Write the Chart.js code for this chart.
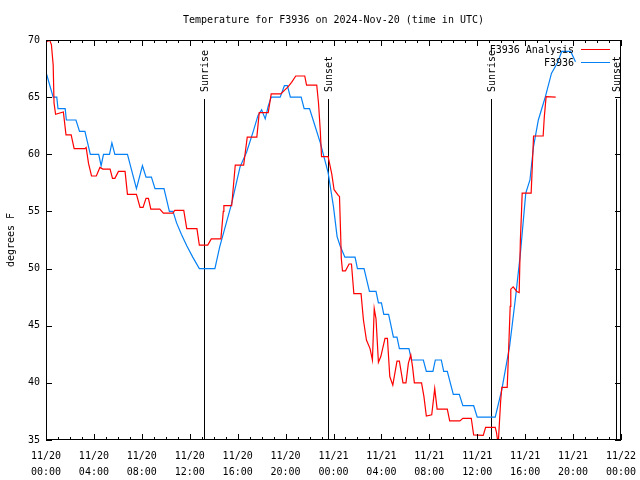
<!DOCTYPE html>
<html>
<head>
<meta charset="utf-8">
<script src="https://cdn.jsdelivr.net/npm/chart.js@4/dist/chart.umd.min.js"></script>
<style>
  html, body { margin: 0; padding: 0; background: #fff; }
</style>
</head>
<body>
<canvas id="grafico" width="640" height="480"></canvas>
<script>
// hours since 11/20 00:00 UTC
let obsHours = [0.05, 0.6, 0.9, 1.0, 1.6, 1.7, 2.5, 2.8, 3.25, 3.7, 4.4, 4.6, 4.8, 5.3, 5.5, 5.75, 6.8, 7.55, 8.05, 8.35,
    8.8, 9.1, 9.85, 10.3, 10.6, 10.9, 11.3, 11.75, 12.25, 12.8, 14.1, 14.5, 15.5, 16.2, 16.75, 17.3, 17.7, 18.0, 18.3, 18.55,
    18.8, 19.55, 19.9, 20.15, 20.4, 21.3, 21.55, 22.0, 22.3, 22.9, 23.55, 24.0, 24.3, 24.55, 24.95, 25.8, 26.0, 26.55, 27.0, 27.55,
    27.75, 28.0, 28.2, 28.6, 28.8, 29.0, 29.3, 29.5, 30.3, 30.5, 31.5, 31.75, 32.3, 32.5, 33.0, 33.2, 33.5, 34.0, 34.5, 34.8,
    35.7, 36.0, 37.5, 38.05, 38.7, 39.2, 39.6, 40.05, 40.4, 40.7, 41.1, 41.65, 42.2, 42.7, 43.05, 43.8, 44.2];
let obsTemps = [67, 65, 65, 64, 64, 63, 63, 62, 62, 60, 60, 59, 60, 60, 61, 60, 60, 57, 59, 58,
    58, 57, 57, 55, 55, 54, 53, 52, 51, 50, 50, 51.9, 55.7, 58.9, 60.2, 62, 63.4, 63.9, 63.1, 64.2,
    65, 65, 66, 66, 65, 65, 64, 64, 63, 61, 58.4, 55.4, 52.8, 52, 51, 51, 50, 50, 48, 48,
    47, 47, 46, 46, 45, 44, 44, 43, 43, 42, 42, 41, 41, 42, 42, 41, 41, 39, 39, 38,
    38, 37, 37, 39.4, 43.2, 47.5, 51.3, 56.6, 57.75, 60.7, 63, 64.9, 67.1, 68, 69, 69, 68.1];

let anaHours = [0.1, 0.3, 0.45, 0.6, 0.67, 0.8, 1.45, 1.67, 2.1, 2.35, 3.25, 3.35, 3.55, 3.8, 4.2, 4.5, 4.75, 5.35, 5.55, 5.75,
    6.05, 6.6, 6.8, 7.55, 7.85, 8.1, 8.35, 8.55, 8.75, 9.5, 9.8, 10.6, 10.75, 11.5, 11.75, 12.6, 12.8, 13.5, 13.8, 14.6,
    14.8, 14.85, 15.5, 15.8, 16.5, 16.8, 17.6, 17.8, 18.55, 18.8, 19.6, 20.2, 20.5, 20.85, 21.6, 21.75, 22.6, 22.75, 22.9, 23.0,
    23.55, 23.85, 24.05, 24.4, 24.5, 24.6, 24.65, 24.75, 25.0, 25.3, 25.5, 25.7, 26.3, 26.5, 26.75, 27.05, 27.25, 27.4, 27.55, 27.75,
    27.95, 28.3, 28.5, 28.7, 28.95, 29.3, 29.5, 29.8, 30.05, 30.25, 30.45, 30.6, 30.75, 31.35, 31.55, 31.75, 32.2, 32.45, 32.65, 33.5,
    33.7, 34.55, 34.8, 35.5, 35.7, 36.5, 36.7, 37.5, 37.6, 37.75, 37.85, 37.95, 38.05, 38.5, 38.6, 38.75, 38.8, 39.0, 39.3, 39.5,
    39.6, 39.7, 39.75, 40.5, 40.6, 40.7, 41.5, 41.6, 41.75, 42.55];
let anaTemps = [69.85, 70, 69.6, 67.8, 64.5, 63.5, 63.7, 61.7, 61.7, 60.5, 60.5, 60.6, 59.2, 58.1, 58.1, 58.85, 58.7, 58.7, 57.9, 57.9,
    58.5, 58.5, 56.5, 56.5, 55.35, 55.35, 56.15, 56.15, 55.2, 55.2, 54.85, 54.85, 55.1, 55.1, 53.5, 53.5, 52.06, 52.06, 52.6, 52.6,
    55.0, 55.5, 55.5, 59.06, 59.06, 61.5, 61.5, 63.65, 63.65, 65.28, 65.28, 65.9, 66.3, 66.85, 66.85, 66.06, 66.06, 64.46, 62, 59.8,
    59.8, 58.3, 56.9, 56.4, 56.3, 52.9, 50.9, 49.8, 49.8, 50.4, 50.4, 47.8, 47.8, 45.5, 43.75, 43.0, 42.0, 46.5, 45.6, 41.8,
    42.3, 43.9, 43.9, 40.55, 39.8, 41.9, 41.9, 40.0, 40.0, 41.7, 42.45, 41.4, 40.0, 40.0, 38.8, 37.1, 37.2, 39.5, 37.7, 37.7,
    36.67, 36.67, 36.9, 36.9, 35.44, 35.4, 36.1, 36.1, 35.7, 34.6, 36.5, 38.35, 39.6, 39.6, 42.3, 46.7, 48.2, 48.4, 48.0, 47.9,
    52.5, 55.1, 56.6, 56.6, 59.06, 61.6, 61.6, 63.3, 65.04, 65];

let sunHours = [13.15, 23.55, 37.15, 47.55];
let sunLabels = ['Sunrise', 'Sunset', 'Sunrise', 'Sunset'];

let tickDays = ['11/20', '11/21', '11/22'];

const FONTE = '10px "DejaVu Sans Mono"';

function pares(xs, ys) {
    return xs.map((h, i) => ({x: h, y: ys[i]}));
}

// molduras, marcas, textos
const enfeites = {
    id: 'enfeites',
    beforeDatasetsDraw(chart) {
        const ctx = chart.ctx, a = chart.chartArea, sx = chart.scales.x;
        ctx.save();
        ctx.strokeStyle = '#000';
        ctx.fillStyle = '#000';
        ctx.lineWidth = 1;
        ctx.font = FONTE;
        sunHours.forEach((h, i) => {
            const px = Math.round(sx.getPixelForValue(h)) + 0.5;
            ctx.beginPath();
            ctx.moveTo(px, a.top + 59);
            ctx.lineTo(px, a.bottom);
            ctx.stroke();
            ctx.save();
            ctx.translate(px + 1, a.top + 52);
            ctx.rotate(-Math.PI / 2);
            ctx.textAlign = 'left';
            ctx.textBaseline = 'middle';
            ctx.fillText(sunLabels[i], 0, 0);
            ctx.restore();
        });
        ctx.restore();
    },
    afterDraw(chart) {
        const ctx = chart.ctx, a = chart.chartArea, sx = chart.scales.x, sy = chart.scales.y;
        ctx.save();
        ctx.strokeStyle = '#000';
        ctx.fillStyle = '#000';
        ctx.lineWidth = 1;
        ctx.strokeRect(a.left + 0.5, a.top + 0.5, a.right - a.left - 1, a.bottom - a.top - 1);
        ctx.beginPath();
        for (let h = 0; h <= 48; h++) {
            const px = Math.round(sx.getPixelForValue(h)) + 0.5;
            const len = h % 4 === 0 ? 6 : 3;
            ctx.moveTo(px, a.bottom); ctx.lineTo(px, a.bottom - len);
            ctx.moveTo(px, a.top); ctx.lineTo(px, a.top + len);
        }
        for (let v = 35; v <= 70; v += 5) {
            const py = Math.round(sy.getPixelForValue(v)) + 0.5;
            ctx.moveTo(a.left, py); ctx.lineTo(a.left + 6, py);
            ctx.moveTo(a.right, py); ctx.lineTo(a.right - 6, py);
        }
        ctx.stroke();

        ctx.font = FONTE;
        ctx.textBaseline = 'middle';
        ctx.textAlign = 'center';
        ctx.fillText('Temperature for F3936 on 2024-Nov-20 (time in UTC)', (a.left + a.right) / 2, 20);

        ctx.save();
        ctx.translate(11, (a.top + a.bottom) / 2);
        ctx.rotate(-Math.PI / 2);
        ctx.fillText('degrees F', 0, 0);
        ctx.restore();

        // legenda
        const itens = chart.data.datasets;
        itens.forEach((ds, i) => {
            const yy = a.top + 10 + i * 13;
            ctx.textAlign = 'right';
            ctx.fillText(ds.label, a.right - 47, yy);
            ctx.strokeStyle = ds.borderColor;
            ctx.beginPath();
            ctx.moveTo(a.right - 40, yy - 0.5);
            ctx.lineTo(a.right - 11, yy - 0.5);
            ctx.stroke();
        });
        ctx.restore();
    }
};

let grafico = document.getElementById('grafico').getContext('2d');
let temp = new Chart(grafico, {
    type: 'line',
    data: {
        datasets: [
            {
                label: 'F3936 Analysis',
                data: pares(anaHours, anaTemps),
                borderColor: '#ff0000',
                backgroundColor: '#ff0000',
                borderWidth: 1.2,
                pointRadius: 0,
                tension: 0,
                fill: false,
            },
            {
                label: 'F3936',
                data: pares(obsHours, obsTemps),
                borderColor: '#0580f5',
                backgroundColor: '#0580f5',
                borderWidth: 1.2,
                pointRadius: 0,
                tension: 0,
                fill: false,
            }
        ]
    },
    options: {
        responsive: false,
        animation: false,
        events: [],
        layout: {padding: {top: 40, right: 19, left: 0, bottom: 0}},
        plugins: {
            legend: {display: false},
            title: {display: false},
            tooltip: {enabled: false}
        },
        scales: {
            x: {
                type: 'linear',
                min: 0,
                max: 48,
                grid: {display: false, drawTicks: false},
                border: {display: false},
                afterFit: s => { s.height = 40; s.paddingLeft = 0; s.paddingRight = 0; },
                ticks: {
                    stepSize: 4,
                    maxRotation: 0,
                    autoSkip: false,
                    padding: 8,
                    color: '#000',
                    font: {family: 'DejaVu Sans Mono', size: 10, lineHeight: 1.6},
                    callback: v => {
                        const d = tickDays[Math.floor(v / 24)];
                        const hh = String(v % 24).padStart(2, '0');
                        return [d, hh + ':00'];
                    }
                }
            },
            y: {
                min: 35,
                max: 70,
                grid: {display: false, drawTicks: false},
                border: {display: false},
                afterFit: s => { s.width = 46; s.paddingTop = 0; s.paddingBottom = 0; },
                ticks: {
                    stepSize: 5,
                    padding: 6,
                    color: '#000',
                    font: {family: 'DejaVu Sans Mono', size: 10}
                }
            }
        }
    },
    plugins: [enfeites]
});
</script>
</body>
</html>
